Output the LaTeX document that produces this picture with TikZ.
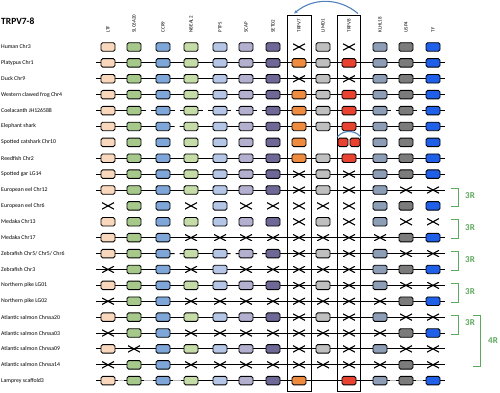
\documentclass[tikz,border=0pt]{standalone}
\usepackage{fontspec}
\setmainfont{Carlito}
\usetikzlibrary{calc,arrows.meta}

\definecolor{g1}{HTML}{F8D7BC}
\definecolor{g2}{HTML}{A6C98B}
\definecolor{g3}{HTML}{7EA6D8}
\definecolor{g4}{HTML}{C5DBA8}
\definecolor{g5}{HTML}{B4C5E6}
\definecolor{g6}{HTML}{B3AFCF}
\definecolor{g7}{HTML}{6D6896}
\definecolor{g8}{HTML}{EE8B3F}
\definecolor{g9}{HTML}{BFBFBF}
\definecolor{g10}{HTML}{E84330}
\definecolor{g11}{HTML}{8C9DB5}
\definecolor{g12}{HTML}{7B7B7B}
\definecolor{g13}{HTML}{2060E8}
\definecolor{regreen}{HTML}{5DA85D}
\definecolor{arcblue}{HTML}{4F81BD}

\pgfdeclarelayer{bg}
\pgfsetlayers{bg,main}

\tikzset{
  gene/.style={draw, line width=0.9pt, rounded corners=1.6pt, minimum width=14pt, minimum height=8.5pt, inner sep=0pt},
  lost/.style={minimum width=12pt, minimum height=6.5pt, inner sep=0pt,
    path picture={\draw[line width=1.1pt] (path picture bounding box.south west) -- (path picture bounding box.north east)
      (path picture bounding box.north west) -- (path picture bounding box.south east);}},
  empty/.style={minimum width=14pt, minimum height=8pt, inner sep=0pt},
  cell/.is choice,
  cell/b/.style={gene, fill=g\c},
  cell/x/.style={lost},
  cell/n/.style={empty},
  rowlab/.style={anchor=west, inner sep=0pt, font=\fontsize{5.8}{6}\selectfont},
  collab/.style={anchor=west, rotate=90, inner sep=0.5pt, font=\fontsize{5}{5}\selectfont},
  frame/.style={draw, line width=0.9pt, inner sep=0pt, minimum width=24pt, minimum height=376pt},
  bracket/.style={regreen, line width=1pt},
  reglab/.style={regreen, font=\fontsize{9}{9}\selectfont\bfseries},
  arcline/.style={arcblue, line width=1.1pt},
}

% one chromosome row: index, label, cells, links
\newcommand\generow[4]{%
  \pgfmathsetmacro\yy{47+15.89*(#1-1)}
  \node[rowlab] (lab#1) at (1,\yy) {#2};
  \coordinate (r#1c0) at (96,\yy);
  \coordinate (r#1c14) at (445,\yy);
  \foreach \t [count=\c] in {#3}
    \node[cell=\t] (r#1c\c) at (h\c |- 0,\yy) {};
  \begin{pgfonlayer}{bg}
  \foreach \l [count=\k from 0] in {#4} {
    \pgfmathtruncatemacro\nk{\k+1}
    \if\l s\draw[line width=0.9pt] (r#1c\k.center) -- (r#1c\nk.center);\fi
    \if\l b\draw[line width=0.9pt] (r#1c\k.center) -- ($(r#1c\k)!0.5!(r#1c\nk)+(-2.5,0)$);
      \draw[line width=0.9pt] ($(r#1c\k)!0.5!(r#1c\nk)+(2.5,0)$) -- (r#1c\nk.center);\fi
    \if\l g\draw[gray!55, line width=0.9pt] (r#1c\k.center) -- (r#1c\nk.center);
      \draw[line width=0.9pt] (r#1c\k.center) -- ($(r#1c\k)+(10,0)$);
      \draw[line width=0.9pt] (r#1c\nk.center) -- ($(r#1c\nk)+(-10,0)$);\fi
  }
  \end{pgfonlayer}
}

\begin{document}
\begin{tikzpicture}[x=1pt, y=-1pt]
\useasboundingbox (0,0) rectangle (500,393);

\node[anchor=west, inner sep=0pt, font=\fontsize{9.5}{10}\selectfont\bfseries] (title) at (1,21) {TRPV7-8};

% gene names
\foreach \x/\g [count=\c] in {108/LTF,134/SLC6A20,163/CCR9,191/NBEAL2,220/PTPS,246/SCAP,273/SETD2,299/TRPV7,323/LIMD1,349/TRPV8,380/KLHL18,406/USP4,433/TF}
  \node[collab] (h\c) at (\x,33) {\g};

\node[frame] (fr7) at (h8 |- 0,203) {};
\node[frame, minimum width=23pt] (fr8) at (h10 |- 0,203) {};
\draw[arcline, {Stealth[length=4pt]}-] ([xshift=-5pt,yshift=1pt]fr7.north) to[out=40,in=140] ([xshift=9pt,yshift=1pt]fr8.north);

\generow{1}{Human Chr3}{b,b,b,b,b,b,b,x,b,x,b,b,b}{n,n,n,n,n,n,n,n,n,n,n,n,n,n}
\generow{2}{Platypus Chr1}{b,b,b,b,b,b,b,b,b,b,b,b,b}{s,s,s,s,s,s,s,s,s,s,s,s,s,s}
\generow{3}{Duck Chr9}{b,b,b,b,b,b,b,x,b,x,b,b,b}{s,s,s,s,s,s,s,s,s,s,s,s,s,s}
\generow{4}{Western clawed frog Chr4}{b,b,b,b,b,b,b,b,b,b,b,b,b}{s,s,s,s,s,s,s,s,s,s,s,s,s,s}
\generow{5}{Coelacanth JH126588}{b,b,b,b,b,b,b,b,b,b,b,b,b}{s,s,b,b,b,b,b,s,s,s,s,b,b,s}
\generow{6}{Elephant shark}{b,b,b,b,b,b,b,b,b,b,b,b,b}{s,s,s,b,s,s,s,s,s,s,s,s,s,s}
\generow{7}{Spotted catshark Chr10}{b,b,b,b,b,b,b,b,n,n,b,b,b}{n,n,n,n,n,n,n,n,n,n,n,n,n,n}
\generow{8}{Reedfish Chr2}{b,b,b,b,b,b,b,b,b,b,b,b,b}{s,s,s,s,s,s,s,s,s,s,s,s,s,s}
\generow{9}{Spotted gar LG14}{b,b,b,b,b,b,b,x,b,x,b,b,b}{s,s,s,s,s,s,s,s,s,s,s,s,s,s}
\generow{10}{European eel Chr12}{b,b,b,b,b,b,b,x,b,x,b,x,x}{s,s,s,s,s,s,s,s,s,s,s,s,s,s}
\generow{11}{European eel Chr6}{x,b,b,x,b,x,x,x,x,x,b,b,b}{n,n,n,n,n,n,n,n,n,n,n,n,n,n}
\generow{12}{Medaka Chr13}{b,b,b,b,b,b,b,x,b,x,b,x,x}{n,n,n,n,n,n,n,n,n,n,n,n,n,n}
\generow{13}{Medaka Chr17}{b,b,b,x,x,x,x,x,x,x,x,b,b}{s,s,s,s,s,s,s,s,s,s,s,s,s,s}
\generow{14}{Zebrafish Chr5/ Chr5/ Chr6}{b,b,b,b,b,b,b,x,b,x,b,x,x}{s,s,s,b,s,b,b,s,s,s,s,s,s,s}
\generow{15}{Zebrafish Chr3}{x,b,b,x,b,x,x,x,x,x,b,b,b}{s,s,s,s,s,s,s,s,s,s,s,s,s,s}
\generow{16}{Northern pike LG01}{b,b,b,b,b,b,b,x,b,x,b,x,x}{s,s,s,s,s,s,s,s,s,s,s,s,s,s}
\generow{17}{Northern pike LG02}{x,b,b,x,x,x,x,x,x,x,x,b,b}{s,s,s,s,s,s,s,s,s,s,s,s,s,s}
\generow{18}{Atlantic salmon Chrssa20}{b,b,b,b,b,b,b,x,b,x,b,x,x}{s,s,s,s,s,s,s,s,s,s,s,s,s,s}
\generow{19}{Atlantic salmon Chrssa03}{x,b,b,x,x,x,x,x,x,x,x,b,b}{s,s,s,s,s,s,s,s,s,s,s,s,s,s}
\generow{20}{Atlantic salmon Chrssa09}{b,x,b,b,b,b,b,x,b,x,b,x,x}{s,s,s,s,s,s,s,s,s,s,s,s,s,s}
\generow{21}{Atlantic salmon Chrssa14}{x,b,b,x,x,x,x,x,x,x,x,b,x}{s,s,s,s,s,s,s,s,s,s,s,s,s,s}
\generow{22}{Lamprey scaffold3}{b,b,b,b,b,b,b,b,n,b,b,b,b}{s,g,g,g,s,s,s,s,s,s,s,g,g,s}

% tandem copies in catshark
\node[gene, fill=g10, minimum width=10pt] (r7d1) at ($(r7c10)+(-6,0)$) {};
\node[gene, fill=g10, minimum width=10pt] (r7d2) at ($(r7c10)+(6,0)$) {};
\draw[arcline] ([yshift=1pt]r7d1.north west) to[out=50,in=130] ([yshift=1pt]r7d2.north east);

% rounds of duplication
\foreach \a/\b [count=\i] in {10/11,12/13,14/15,16/17,18/19} {
  \draw[bracket] ($(r\a c14)+(6,-2)$) -- ++(7,0) |- ($(r\b c14)+(6,1)$);
  \node[reglab] (rd\i) at ($(r\a c14)!0.5!(r\b c14)+(25,-2)$) {3R};
}
\draw[bracket] ($(r18c14)+(28,-2)$) -- ++(7,0) |- ($(r21c14)+(28,2)$);
\node[reglab] (rd6) at ($(r18c14)!0.5!(r21c14)+(48,0)$) {4R};
\end{tikzpicture}
\end{document}
